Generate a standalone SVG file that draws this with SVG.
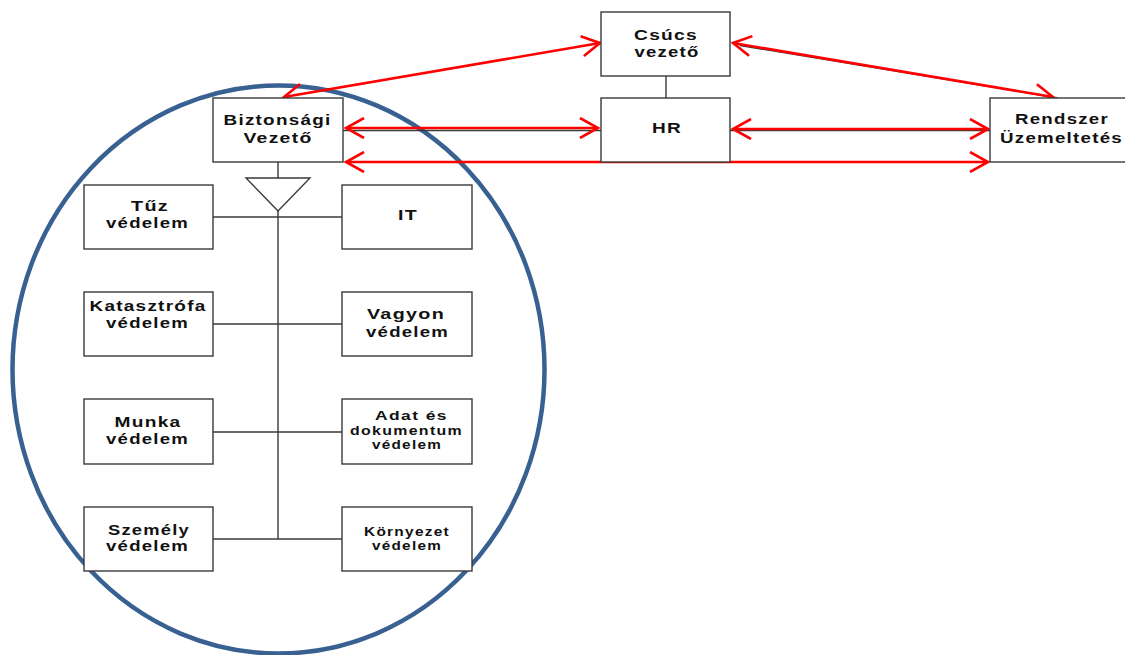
<svg xmlns="http://www.w3.org/2000/svg" width="1125" height="655" viewBox="0 0 1125 655">
<defs>
<style>
.box{fill:#fff;stroke:#3a3a3a;stroke-width:1.4}
.t{font-family:"Liberation Sans",Arial,sans-serif;font-weight:bold;font-size:15px;fill:#111;text-anchor:middle;letter-spacing:1px}
.s{font-size:12px}
.conn{stroke:#3a3a3a;stroke-width:1.4;fill:none}
.red{stroke:#f00;stroke-width:2.6;fill:none;marker-start:url(#ah);marker-end:url(#ah)}
</style>
<marker id="ah" viewBox="0 0 22 22" refX="19" refY="11" markerWidth="22" markerHeight="22" markerUnits="userSpaceOnUse" orient="auto-start-reverse">
<path d="M1,1 L19,11 L1,21" fill="none" stroke="#f00" stroke-width="2.6"/>
</marker>
</defs>
<rect width="1125" height="655" fill="#fff"/>

<ellipse cx="278.5" cy="369.5" rx="266" ry="284" fill="none" stroke="#386192" stroke-width="4.5"/>

<g id="connectors">
<line class="conn" x1="666" y1="76" x2="666" y2="98"/>
<line class="conn" x1="278" y1="162" x2="278" y2="178"/>
<polygon class="conn" points="246,178 310,178 278,211"/>
<line class="conn" x1="278" y1="211" x2="278" y2="539"/>
<line class="conn" x1="213" y1="217" x2="342" y2="217"/>
<line class="conn" x1="213" y1="324" x2="342" y2="324"/>
<line class="conn" x1="213" y1="432" x2="342" y2="432"/>
<line class="conn" x1="213" y1="539" x2="342" y2="539"/>
<line class="conn" x1="343" y1="130.5" x2="601" y2="130.5"/>
<line class="conn" x1="730" y1="130.5" x2="990" y2="130.5"/>
<line class="conn" x1="740" y1="45.5" x2="1058" y2="98"/>
<line class="red" x1="284" y1="97" x2="600" y2="43"/>
<line class="red" x1="346" y1="128" x2="598" y2="128"/>
<line class="red" x1="733" y1="129" x2="988" y2="129"/>
<line class="red" x1="346" y1="162" x2="988" y2="162"/>
<line class="red" x1="733" y1="43" x2="1053" y2="97"/>
</g>

<g id="csucs"><rect class="box" x="601" y="12" width="129" height="64"/>
<text class="t" x="666" y="40" textLength="64" lengthAdjust="spacingAndGlyphs">Csúcs</text>
<text class="t" x="667" y="57" textLength="65" lengthAdjust="spacingAndGlyphs">vezető</text></g>

<g id="hr"><rect class="box" x="601" y="98" width="129" height="64"/>
<text class="t" x="667" y="133" textLength="30" lengthAdjust="spacingAndGlyphs">HR</text></g>

<g id="rendszer"><rect class="box" x="990" y="98" width="145" height="64"/>
<text class="t" x="1062" y="124" textLength="94" lengthAdjust="spacingAndGlyphs">Rendszer</text>
<text class="t" x="1061.5" y="143" textLength="123" lengthAdjust="spacingAndGlyphs">Üzemeltetés</text></g>

<g id="biztonsagi"><rect class="box" x="213" y="98" width="130" height="64"/>
<text class="t" x="277.5" y="125" textLength="108" lengthAdjust="spacingAndGlyphs">Biztonsági</text>
<text class="t" x="278" y="143" textLength="69" lengthAdjust="spacingAndGlyphs">Vezető</text></g>

<g id="tuz"><rect class="box" x="84" y="185" width="129" height="64"/>
<text class="t" x="150" y="211" textLength="38" lengthAdjust="spacingAndGlyphs">Tűz</text>
<text class="t" x="147.5" y="228" textLength="83" lengthAdjust="spacingAndGlyphs">védelem</text></g>

<g id="it"><rect class="box" x="342" y="185" width="130" height="64"/>
<text class="t" x="408" y="220" textLength="20" lengthAdjust="spacingAndGlyphs">IT</text></g>

<g id="katasztrofa"><rect class="box" x="84" y="292" width="129" height="64"/>
<text class="t" x="148" y="311" textLength="117" lengthAdjust="spacingAndGlyphs">Katasztrófa</text>
<text class="t" x="147.5" y="328" textLength="83" lengthAdjust="spacingAndGlyphs">védelem</text></g>

<g id="vagyon"><rect class="box" x="342" y="292" width="130" height="64"/>
<text class="t" x="406" y="319" textLength="78" lengthAdjust="spacingAndGlyphs">Vagyon</text>
<text class="t" x="407.5" y="337" textLength="83" lengthAdjust="spacingAndGlyphs">védelem</text></g>

<g id="munka"><rect class="box" x="84" y="399" width="129" height="65"/>
<text class="t" x="148" y="427" textLength="67" lengthAdjust="spacingAndGlyphs">Munka</text>
<text class="t" x="147.5" y="444" textLength="83" lengthAdjust="spacingAndGlyphs">védelem</text></g>

<g id="adat"><rect class="box" x="342" y="399" width="130" height="65"/>
<text class="t s" x="411.5" y="420" textLength="73" lengthAdjust="spacingAndGlyphs">Adat és</text>
<text class="t s" x="406.5" y="435" textLength="113" lengthAdjust="spacingAndGlyphs">dokumentum</text>
<text class="t s" x="407" y="449" textLength="70" lengthAdjust="spacingAndGlyphs">védelem</text></g>

<g id="szemely"><rect class="box" x="84" y="507" width="129" height="64"/>
<text class="t" x="149" y="535" textLength="82" lengthAdjust="spacingAndGlyphs">Személy</text>
<text class="t" x="147.5" y="551" textLength="83" lengthAdjust="spacingAndGlyphs">védelem</text></g>

<g id="kornyezet"><rect class="box" x="342" y="507" width="130" height="64"/>
<text class="t s" x="407" y="536" textLength="86" lengthAdjust="spacingAndGlyphs">Környezet</text>
<text class="t s" x="407" y="550" textLength="70" lengthAdjust="spacingAndGlyphs">védelem</text></g>
</svg>
